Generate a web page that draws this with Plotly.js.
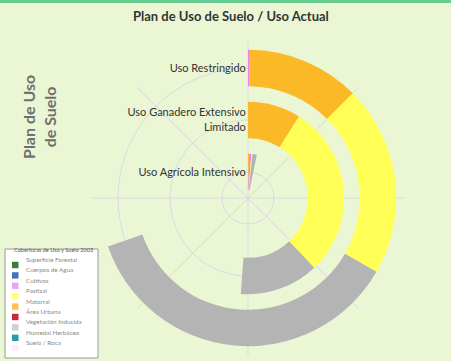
<!DOCTYPE html>
<html>
<head>
<meta charset="utf-8">
<script src="https://cdn.plot.ly/plotly-3.0.1.min.js"></script>
<style>
  html, body { margin: 0; padding: 0; background: #ebf7d4; }
  #plot { width: 451px; height: 361px; }
</style>
</head>
<body>
<div id="plot"></div>
<script>
// Rings of the chart (radial categories), inner to outer
const rings = ["Uso Agrícola Intensivo", "Uso Ganadero Extensivo<br>Limitado", "Uso Restringido"];

// Share of the full circle (%) taken by each land cover, per ring, in drawing order
const agricolaCovers = ["Matorral", "Cultivos", "Pastizal", "Vegetación Inducida"];
const agricolaShare = [0.4, 0.8, 0.4, 1.6];

const ganaderoCovers = ["Matorral", "Pastizal", "Vegetación Inducida"];
const ganaderoShare = [8.9, 29.0, 13.3];

const restringidoCovers = ["Cultivos", "Matorral", "Pastizal", "Vegetación Inducida"];
const restringidoShare = [0.2, 12.3, 20.8, 36.4];

// Legend of land covers
const legendTitle = "Coberturas de Uso y Suelo 2003";
const legendNames = ["Superficie Forestal", "Cuerpos de Agua", "Cultivos", "Pastizal", "Matorral",
                     "Área Urbana", "Vegetación Inducida", "Humedal Herbáceo", "Suelo / Roca"];
const legendColors = ["#3a7a3a", "#3e74c2", "#e8a6f0", "#ffff70", "#ffbf55",
                      "#c8283c", "#cfcfcf", "#2a9aaa", "#fbeef8"];

// colours used in the rings
const ringColors = {
    "Cultivos": "#f27ef0",
    "Pastizal": "#ffff55",
    "Matorral": "#fbb927",
    "Vegetación Inducida": "#b4b4b4"
};

const W = 451, H = 361;
const barWidth = 0.7;

function ringTrace(idx, covers, shares) {
    let theta = [], width = [], colors = [];
    let acc = 0;
    for (let i = 0; i < shares.length; i++) {
        theta.push((acc + shares[i] / 2) * 3.6);
        width.push(shares[i] * 3.6);
        colors.push(ringColors[covers[i]]);
        acc += shares[i];
    }
    return {
        type: "barpolar",
        r: shares.map(() => barWidth),
        base: shares.map(() => idx - barWidth / 2),
        theta: theta,
        width: width,
        text: covers,
        marker: { color: colors, line: { width: 0 } },
        showlegend: false,
        hoverinfo: "text"
    };
}

const data = [
    ringTrace(0, agricolaCovers, agricolaShare),
    ringTrace(1, ganaderoCovers, ganaderoShare),
    ringTrace(2, restringidoCovers, restringidoShare)
];

// legend box drawn by hand (paper coords, px converted)
const px = x => x / W;
const py = y => 1 - y / H;
const shapes = [
    { type: "rect", xref: "paper", yref: "paper", x0: px(0), x1: px(W), y0: py(0), y1: py(3),
      fillcolor: "#66cc90", line: { width: 0 } },
    { type: "rect", xref: "paper", yref: "paper", x0: px(5), x1: px(98), y0: py(358), y1: py(249),
      fillcolor: "#ffffff", line: { color: "#9a9a9a", width: 1 } }
];
const annotations = [
    { text: "<b>Plan de Uso<br>de Suelo</b>", xref: "paper", yref: "paper", x: px(39), y: py(117),
      xanchor: "center", yanchor: "middle",
      showarrow: false, textangle: -90, font: { family: "Lato", size: 16, color: "#6f6f6f" } },
    { text: legendTitle, xref: "paper", yref: "paper", x: px(12), y: py(255), xanchor: "left",
      showarrow: false, font: { family: "Lato", size: 5.6, color: "#555" } }
];
legendNames.forEach((name, i) => {
    const yc = 265 + i * 10.4;
    shapes.push({ type: "rect", xref: "paper", yref: "paper", x0: px(12), x1: px(18.5),
                  y0: py(yc + 3.2), y1: py(yc - 3.2), fillcolor: legendColors[i], line: { width: 0 } });
    annotations.push({ text: name, xref: "paper", yref: "paper", x: px(24), y: py(yc), xanchor: "left",
                       showarrow: false, font: { family: "Lato", size: 6.3, color: "#8a8a8a" } });
});

const gridColor = "#d9dae4";
const layout = {
    width: W,
    height: H,
    margin: { l: 0, r: 0, t: 0, b: 0 },
    paper_bgcolor: "#ebf7d4",
    title: { text: "<b>Plan de Uso de Suelo / Uso Actual</b>", x: 0.512, y: 1 - 16 / H, yanchor: "middle",
             font: { family: "Lato", size: 13, color: "#333" } },
    polar: {
        domain: { x: [91 / W, 405 / W], y: [1 - 356 / H, 1 - 40 / H] },
        bgcolor: "rgba(0,0,0,0)",
        radialaxis: {
            range: [-0.5, 2.52],
            tickvals: [0, 1, 2],
            ticktext: rings,
            angle: 90,
            tickangle: 90,
            side: "counterclockwise",
            showline: false,
            ticks: "",
            gridcolor: gridColor,
            tickfont: { family: "Lato", size: 11, color: "#333" }
        },
        angularaxis: {
            rotation: 90,
            direction: "clockwise",
            dtick: 45,
            showticklabels: false,
            ticks: "",
            showline: false,
            gridcolor: gridColor
        }
    },
    shapes: shapes,
    annotations: annotations
};

Plotly.newPlot("plot", data, layout, { displayModeBar: false });
</script>
</body>
</html>
